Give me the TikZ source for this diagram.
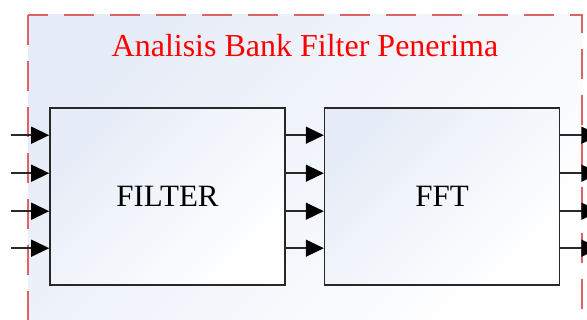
\documentclass[tikz,border=0pt]{standalone}
\usepackage{fontspec}
\setmainfont{Liberation Serif}
\usetikzlibrary{
  arrows.meta,
  calc,
  positioning
}
\definecolor{framered}{RGB}{220,100,104}
\definecolor{titlered}{RGB}{255,0,0}
\definecolor{edgegray}{RGB}{40,40,40}
\definecolor{tintblue}{RGB}{230,236,247}
\tikzset{
  frame/.style={draw=framered,line width=2.6pt,dash pattern=on 30pt off 16pt,
    top color=tintblue,bottom color=white,shading angle=45},
  blockbox/.style={draw=edgegray,line width=1.6pt,
    top color=tintblue,bottom color=white,shading angle=45,
    minimum width=235pt,minimum height=177pt,inner sep=0pt,
    font=\fontsize{31}{37}\selectfont},
  sigflow/.style={-{Triangle[length=18pt,width=17pt,color=black]},
    line width=1.4pt,draw=edgegray},
  titlelab/.style={text=titlered,font=\fontsize{32}{38}\selectfont}
}

\begin{document}
\begin{tikzpicture}[x=1pt,y=-1pt]
  \useasboundingbox (0,0) rectangle (587,320);
  \clip (0,0) rectangle (587,320);
  \fill[white] (0,0) rectangle (587,320);
  \draw[frame] (28,15) rectangle (582,345);
  \node[titlelab] (title) at (305,46) {Analisis Bank Filter Penerima};

  \node[blockbox] (filter) at (167.5,196.5) {FILTER};
  \node[blockbox,right=38pt of filter] (fft) {FFT};

  % four signal rails: inputs, filter -> fft, outputs
  \foreach \k/\dy in {1/28,2/66,3/104,4/141}{
    \coordinate (in\k) at ($(filter.north west)+(-38,\dy)$);
    \coordinate (out\k) at ($(fft.north east)+(39,\dy)$);
    \draw[sigflow] (in\k) -- (filter.west |- in\k);
    \draw[sigflow] (filter.east |- in\k) -- (fft.west |- in\k);
    \draw[sigflow] (fft.east |- in\k) -- (out\k);
  }
\end{tikzpicture}
\end{document}
